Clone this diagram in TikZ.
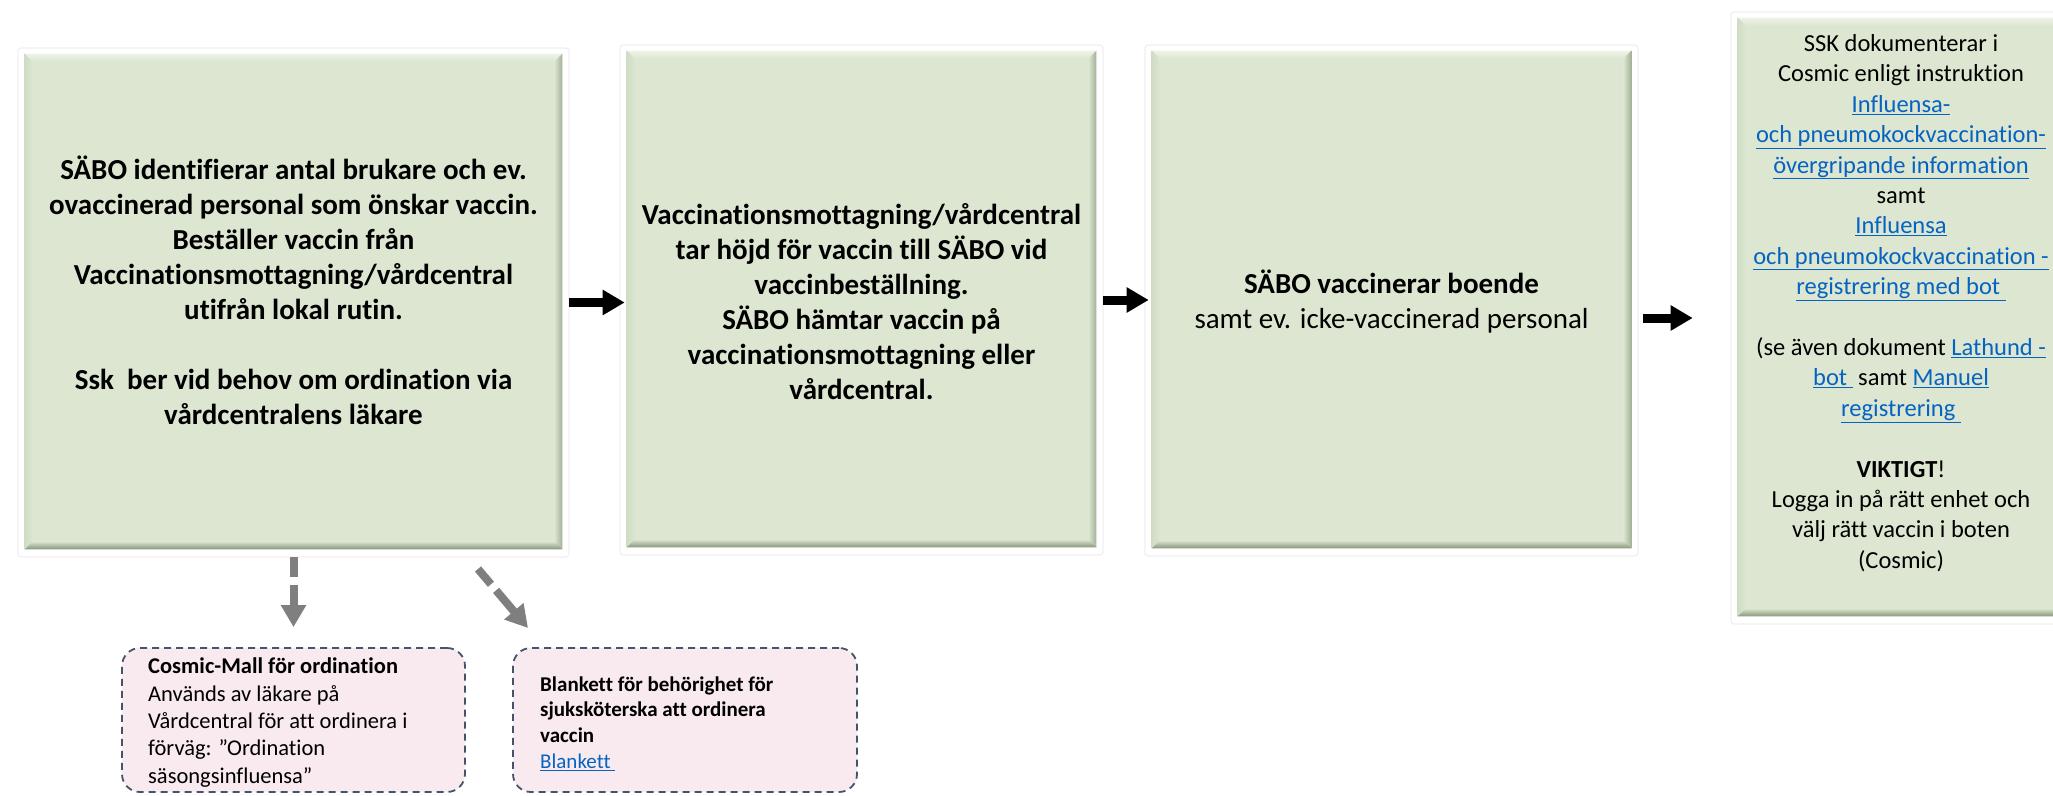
\documentclass[tikz,border=0pt]{standalone}
\usepackage{fontspec}
\setmainfont{Carlito}[Ligatures={NoCommon,NoContextual}]
\usetikzlibrary{arrows.meta,calc,backgrounds}
\definecolor{boxgreen}{RGB}{220,230,209}
\definecolor{bevtop}{RGB}{238,244,232}
\definecolor{bevleft}{RGB}{208,220,196}
\definecolor{bevright}{RGB}{162,177,150}
\definecolor{bevbot}{RGB}{135,150,123}
\definecolor{pinkfill}{RGB}{248,234,239}
\definecolor{pinkline}{RGB}{68,84,106}
\definecolor{linkblue}{RGB}{5,99,193}
\definecolor{arrowgray}{RGB}{127,127,127}
\newcommand{\lnk}[1]{\textcolor{linkblue}{\underline{#1}}}
\newcommand{\softshadow}[1]{%
 \begin{scope}[on background layer]
  \fill[black,opacity=0.035,rounded corners=8pt] ([xshift=-4pt,yshift=3pt]#1.north west) rectangle ([xshift=7pt,yshift=-11pt]#1.south east);
  \fill[black,opacity=0.05,rounded corners=6pt] ([xshift=-2pt,yshift=1pt]#1.north west) rectangle ([xshift=5pt,yshift=-8pt]#1.south east);
  \fill[black,opacity=0.07,rounded corners=4pt] ([xshift=-1pt,yshift=0pt]#1.north west) rectangle ([xshift=3pt,yshift=-5pt]#1.south east);
  \fill[black,opacity=0.09,rounded corners=3pt] ([xshift=0pt,yshift=-1pt]#1.north west) rectangle ([xshift=1.5pt,yshift=-3pt]#1.south east);
 \end{scope}}
\newcommand{\bevel}[1]{%
 \coordinate (#1gnw) at ([xshift=7pt,yshift=-6pt]#1.north west);
 \coordinate (#1gse) at ([xshift=-7pt,yshift=8pt]#1.south east);
 \coordinate (#1gne) at (#1gse|-#1gnw);
 \coordinate (#1gsw) at (#1gnw|-#1gse);
 \fill[boxgreen] (#1gnw) rectangle (#1gse);
 \shade[top color=bevtop, bottom color=boxgreen] (#1gnw) -- (#1gne) -- ([xshift=-8pt,yshift=-8pt]#1gne) -- ([xshift=8pt,yshift=-8pt]#1gnw) -- cycle;
 \shade[left color=bevleft, right color=boxgreen] (#1gnw) -- ([xshift=8pt,yshift=-8pt]#1gnw) -- ([xshift=8pt,yshift=8pt]#1gsw) -- (#1gsw) -- cycle;
 \shade[left color=boxgreen, right color=bevright] (#1gne) -- (#1gse) -- ([xshift=-8pt,yshift=8pt]#1gse) -- ([xshift=-8pt,yshift=-8pt]#1gne) -- cycle;
 \shade[top color=boxgreen, bottom color=bevbot] (#1gsw) -- (#1gse) -- ([xshift=-8pt,yshift=8pt]#1gse) -- ([xshift=8pt,yshift=8pt]#1gsw) -- cycle;
}
\begin{document}
\begin{tikzpicture}[x=1pt,y=-1pt,
  frame/.style={rectangle, fill=white, draw=black!10, line width=0.6pt, rounded corners=3pt, inner sep=0pt},
  maintext/.style={align=center, font=\fontsize{29}{35}\selectfont, inner sep=0pt},
  sidetext/.style={align=center, font=\fontsize{24.5}{30.4}\selectfont, inner sep=0pt},
  notebox/.style={rectangle, rounded corners=18pt, fill=pinkfill, draw=pinkline, line width=1.8pt, dash pattern=on 7pt off 5pt, inner sep=0pt},
  flowarrow/.style={draw=black, line width=9pt, -{Triangle[width=24pt,length=22pt]}},
  grayarrow/.style={draw=arrowgray, line width=8pt, -{Triangle[width=24pt,length=22pt]}, dash pattern=on 20pt off 8pt on 30pt off 8pt}
]
\useasboundingbox (0,0) rectangle (2053,795);
\fill[white] (0,0) rectangle (2053,795);

% main frames
\node[frame, minimum width=551pt, minimum height=509pt] (b1) at (293.5,302.5) {};
\node[frame, minimum width=483pt, minimum height=510pt] (b2) at (861.5,300) {};
\node[frame, minimum width=493pt, minimum height=511pt] (b3) at (1391.5,300.5) {};
\node[frame, minimum width=340pt, minimum height=612pt] (b4) at (1901,318) {};
\softshadow{b1}\softshadow{b2}\softshadow{b3}\softshadow{b4}
\bevel{b1}\bevel{b2}\bevel{b3}\bevel{b4}

% texts
\node[maintext, font=\bfseries\fontsize{29}{35}\selectfont] (t1) at (293.5,290) {SÄBO identifierar antal brukare och ev.\\ ovaccinerad personal som önskar vaccin.\\ Beställer vaccin från\\ Vaccinationsmottagning/vårdcentral\\ utifrån lokal rutin.\\[35pt] Ssk\ \ ber vid behov om ordination via\\ vårdcentralens läkare};
\node[maintext, font=\bfseries\fontsize{29}{35}\selectfont] (t2) at (861.5,302) {Vaccinationsmottagning/vårdcentral\\ tar höjd för vaccin till SÄBO vid\\ vaccinbeställning.\\ SÄBO hämtar vaccin på\\ vaccinationsmottagning eller\\ vårdcentral.};
\node[maintext] (t3) at (1391.5,302) {\textbf{SÄBO vaccinerar boende}\\ samt ev. icke-vaccinerad personal};
\node[sidetext] (t4) at (1901,303) {SSK dokumenterar i\\ Cosmic enligt instruktion\\ \lnk{Influensa-}\\ \lnk{och pneumokockvaccination-}\\ \lnk{övergripande information}\\ samt\\ \lnk{Influensa}\\ \lnk{och pneumokockvaccination -}\\ \lnk{registrering med bot\ }\\[30.4pt] (se även dokument \lnk{Lathund -}\\ \lnk{bot\ } samt \lnk{Manuel}\\ \lnk{registrering\ }\\[30.4pt] \textbf{VIKTIGT}!\\ Logga in på rätt enhet och\\ välj rätt vaccin i boten\\ (Cosmic)};

% note boxes
\node[notebox, minimum width=343pt, minimum height=144pt] (c1) at (293.5,720) {};
\node[notebox, minimum width=344pt, minimum height=144pt] (bk) at (685,720) {};
\node[anchor=west, align=left, inner sep=0pt, font=\fontsize{22.5}{27.3}\selectfont] (c1t) at (148,722.5) {\textbf{Cosmic-Mall för ordination}\\ Används av läkare på\\ Vårdcentral för att ordinera i\\ förväg: ”Ordination\\ säsongsinfluensa”};
\node[anchor=west, align=left, inner sep=0pt, font=\fontsize{21}{25.7}\selectfont] (bkt) at (540,723.5) {\textbf{Blankett för behörighet för}\\ \textbf{sjuksköterska att ordinera}\\ \textbf{vaccin}\\ \lnk{Blankett\ }};

% arrows
\draw[flowarrow, shorten >=-5pt] (b1.east) -- (b1.east -| b2.west);
\draw[flowarrow, shorten >=-4pt] (b2.east) -- (b2.east -| b3.west);
\draw[flowarrow, shorten <=5pt, shorten >=38pt] (b4.west -| b3.east) -- (b4.west);
\draw[grayarrow, shorten >=20pt] (b1.south) -- (c1.north);
\coordinate (d2s) at (478,569);
\coordinate (d2e) at (528,628);
\draw[grayarrow] (d2s) -- (d2e);
\end{tikzpicture}
\end{document}
